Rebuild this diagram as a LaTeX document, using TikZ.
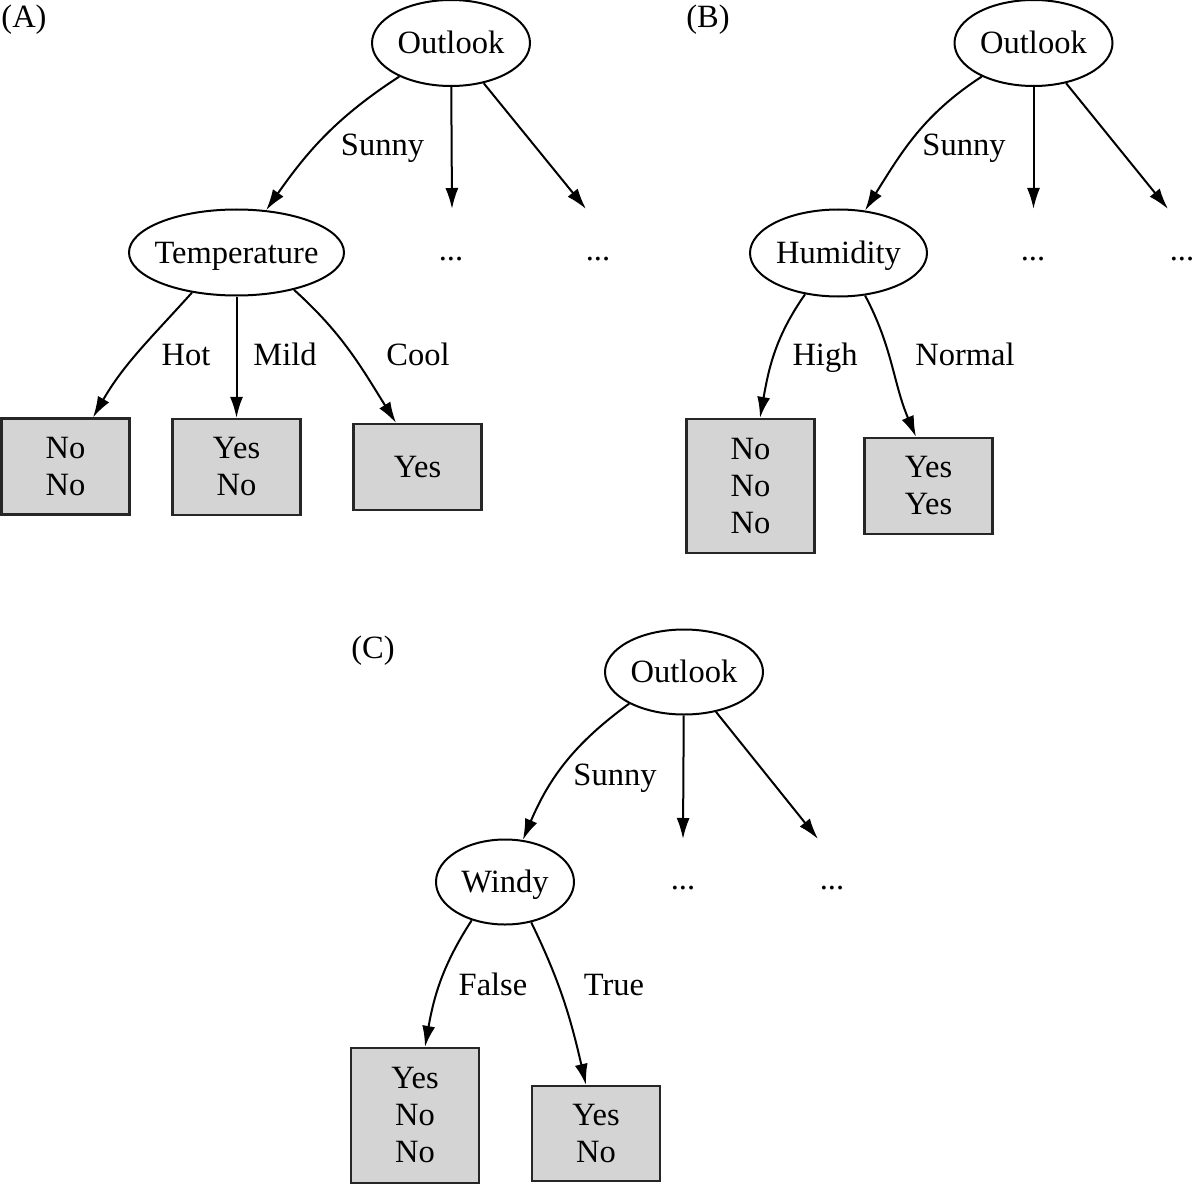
\documentclass[tikz,border=0pt]{standalone}
\usepackage{fontspec}
\setmainfont{Liberation Serif}
\usetikzlibrary{shapes.geometric,arrows.meta}
\begin{document}
\begin{tikzpicture}[x=1pt,y=1pt,
  every node/.style={font=\fontsize{32.5}{37}\selectfont},
  attr/.style={ellipse, draw, line width=2pt, inner xsep=-10pt, inner ysep=0pt, text height=22pt, text depth=1pt},
  leaf/.style={rectangle, draw=black!85, line width=2.2pt, fill=black!17, inner sep=0pt, align=center, minimum width=128pt},
  lbl/.style={anchor=base, inner sep=0pt},
  edge/.style={draw, line width=2pt, -{Latex[length=21pt,width=13pt]}},
]
\useasboundingbox (0,0) rectangle (1194,-1185);

% ---------- (A) ----------
\node[lbl] (labA) at (24,-28) {(A)};
\node[attr, minimum width=158pt, minimum height=86pt] (outA) at (451,-43) {Outlook};
\node[attr, minimum width=215pt, minimum height=86pt] (tempA) at (236.5,-252.5) {Temperature};
\coordinate (eA1) at (452,-209);
\coordinate (eA2) at (586,-209);
\node[lbl] (dA1) at (451,-260) {...};
\node[lbl] (dA2) at (598,-260) {...};
\node[leaf, minimum height=96pt] (noA) at (65.5,-466.5) {No\\No};
\node[leaf, minimum height=96pt] (ynA) at (236.5,-467) {Yes\\No};
\node[leaf, minimum height=86pt] (yA) at (417.5,-467) {Yes};
\draw[edge] (outA) to[out=-147,in=55] (tempA);
\draw[edge] (outA) -- (eA1);
\draw[edge] (outA) -- (eA2);
\draw[edge] (tempA.-138) to[out=-132,in=60] ([xshift=27.5pt]noA.north);
\draw[edge] (tempA) -- (ynA);
\draw[edge] (tempA.-33) to[out=-42,in=122] ([xshift=-21.5pt]yA.north);
\node[lbl] (sunA) at (382.5,-156) {Sunny};
\node[lbl] (hotA) at (186,-365) {Hot};
\node[lbl] (mildA) at (285,-365) {Mild};
\node[lbl] (coolA) at (418,-365) {Cool};

% ---------- (B) ----------
\node[lbl] (labB) at (708,-28) {(B)};
\node[attr, minimum width=158pt, minimum height=86pt] (outB) at (1033.5,-43) {Outlook};
\node[attr, minimum width=177pt, minimum height=87pt] (humB) at (838.5,-253) {Humidity};
\coordinate (eB1) at (1033.5,-209);
\coordinate (eB2) at (1168,-209);
\node[lbl] (dB1) at (1033,-260) {...};
\node[lbl] (dB2) at (1182,-260) {...};
\node[leaf, minimum height=134pt] (nnnB) at (750.5,-486) {No\\No\\No};
\node[leaf, minimum height=96pt] (yyB) at (928.5,-486) {Yes\\Yes};
\draw[edge] (outB) to[out=-147,in=58] (humB);
\draw[edge] (outB) -- (eB1);
\draw[edge] (outB) -- (eB2);
\draw[edge] (humB.-129) to[out=-125,in=80] ([xshift=9.5pt]nnnB.north);
\draw[edge] (humB.-58) to[out=-62,in=113] ([xshift=-12.5pt]yyB.north);
\node[lbl] (sunB) at (964,-156) {Sunny};
\node[lbl] (highB) at (825,-365) {High};
\node[lbl] (normB) at (965,-365) {Normal};

% ---------- (C) ----------
\node[lbl] (labC) at (373,-658) {(C)};
\node[attr, minimum width=158pt, minimum height=85pt] (outC) at (684,-672) {Outlook};
\node[attr, minimum width=138pt, minimum height=85pt] (windC) at (505,-882) {Windy};
\coordinate (eC1) at (683,-839);
\coordinate (eC2) at (818,-839);
\node[lbl] (dC1) at (683,-889) {...};
\node[lbl] (dC2) at (832,-889) {...};
\node[leaf, minimum height=135pt] (ynnC) at (415,-1115.5) {Yes\\No\\No};
\node[leaf, minimum height=95pt] (ynC) at (596,-1133.5) {Yes\\No};
\draw[edge] (outC.-150) to[out=-144,in=67] (windC);
\draw[edge] (outC) -- (eC1);
\draw[edge] (outC) -- (eC2);
\draw[edge] (windC.-131) to[out=-123,in=80] ([xshift=10pt]ynnC.north);
\draw[edge] (windC.-57) to[out=-64,in=103] ([xshift=-10pt]ynC.north);
\node[lbl] (sunC) at (615,-785) {Sunny};
\node[lbl] (falseC) at (493,-995) {False};
\node[lbl] (trueC) at (614,-995) {True};
\end{tikzpicture}
\end{document}
